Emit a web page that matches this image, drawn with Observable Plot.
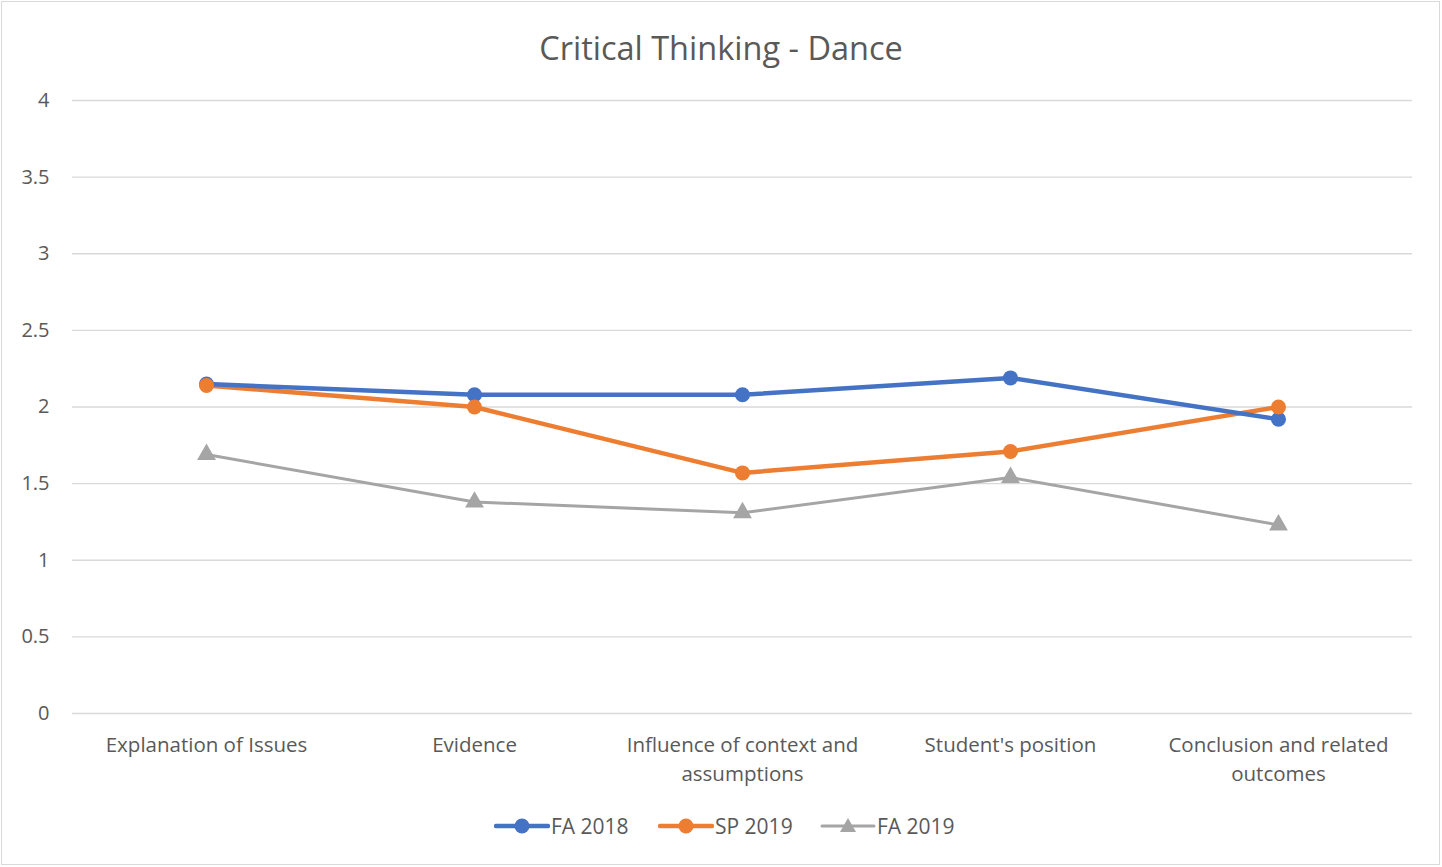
<!DOCTYPE html>
<html>
<head>
<meta charset="utf-8">
<script src="https://cdn.jsdelivr.net/npm/d3@7"></script>
<script src="https://cdn.jsdelivr.net/npm/@observablehq/plot@0.6"></script>
<style>
  body { margin: 0; background: #fff; font-family: "Open Sans", sans-serif; }
  #wrap { position: relative; width: 1442px; height: 867px; overflow: hidden; }
  #frame { position: absolute; left: 1px; top: 1px; width: 1437px; height: 862px; border: 1px solid #d9d9d9; }
  #title { position: absolute; left: 0; width: 1442px; top: 25px; text-align: center; font-size: 32.5px; color: #595959; }
  #chart { position: absolute; left: 0; top: 0; }
  #legend { position: absolute; top: 811px; left: 0; width: 1442px; height: 30px; }
  #legend .item { position: absolute; top: 0; display: flex; align-items: center; font-size: 21px; color: #595959; }
</style>
</head>
<body>
<div id="wrap">
  <div id="frame"></div>
  <div id="chart"></div>
  <div id="title">Critical Thinking - Dance</div>
  <div id="legend"></div>
</div>
<script>
const categories = ["Explanation of Issues", "Evidence", "Influence of context and assumptions", "Student's position", "Conclusion and related outcomes"];
const categoryLabels = ["Explanation of Issues", "Evidence", "Influence of context and\nassumptions", "Student's position", "Conclusion and related\noutcomes"];
const seriesNames = ["FA 2018", "SP 2019", "FA 2019"];
const fa2018 = [2.15, 2.08, 2.08, 2.19, 1.92];
const sp2019 = [2.14, 2.00, 1.57, 1.71, 2.00];
const fa2019 = [1.69, 1.38, 1.31, 1.54, 1.23];
const yTicks = [0, 0.5, 1, 1.5, 2, 2.5, 3, 3.5, 4];
const colors = ["#4472C4", "#ED7D31", "#A5A5A5"];

const seriesValues = [fa2018, sp2019, fa2019];
const data = [];
seriesNames.forEach((s, i) => categories.forEach((c, j) => data.push({series: s, category: c, value: seriesValues[i][j]})));
const labelOf = new Map(categories.map((c, i) => [c, categoryLabels[i]]));

const plot = Plot.plot({
  width: 1442,
  height: 790,
  marginTop: 100,
  marginBottom: 77,
  marginLeft: 72,
  marginRight: 30,
  style: {fontFamily: "Open Sans, sans-serif", background: "transparent"},
  x: {type: "point", domain: categories, padding: 0.5, axis: null},
  y: {domain: [0, 4], axis: null},
  color: {domain: seriesNames, range: colors},
  marks: [
    Plot.ruleY(yTicks, {stroke: "#d9d9d9", strokeWidth: 1.3}),
    Plot.text(yTicks, {x: null, y: d => d, text: d => String(d), frameAnchor: "left", textAnchor: "end", dx: -23, fontSize: 20, fill: "#595959"}),
    Plot.text(categories, {x: d => d, y: () => 0, text: d => labelOf.get(d), lineAnchor: "top", dy: 18, lineHeight: 1.42, fontSize: 20.5, fill: "#595959"}),
    Plot.line(data.filter(d => d.series === "FA 2019"), {x: "category", y: "value", stroke: "series", strokeWidth: 3}),
    Plot.line(data.filter(d => d.series === "SP 2019"), {x: "category", y: "value", stroke: "series", strokeWidth: 4.5}),
    Plot.line(data.filter(d => d.series === "FA 2018"), {x: "category", y: "value", stroke: "series", strokeWidth: 4.5}),
    Plot.dot(data.filter(d => d.series === "FA 2019"), {x: "category", y: "value", fill: "series", symbol: "triangle", r: 7}),
    Plot.dot(data.filter(d => d.series === "FA 2018"), {x: "category", y: "value", fill: "series", r: 7.5}),
    Plot.dot(data.filter(d => d.series === "SP 2019"), {x: "category", y: "value", fill: "series", r: 7.5})
  ]
});
document.getElementById("chart").appendChild(plot);

// Legend
const legendLefts = [494, 658, 820];
const legend = document.getElementById("legend");
seriesNames.forEach((s, i) => {
  const item = document.createElement("div");
  item.className = "item";
  item.style.left = legendLefts[i] + "px";
  const sw = 56, sh = 30;
  const marker = i < 2
    ? `<circle cx="${sw/2}" cy="${sh/2}" r="7.5" fill="${colors[i]}"/>`
    : `<path d="M${sw/2},${sh/2-8} L${sw/2+8},${sh/2+6} L${sw/2-8},${sh/2+6} Z" fill="${colors[i]}"/>`;
  item.innerHTML = `<svg width="${sw}" height="${sh}"><line x1="2" x2="${sw-2}" y1="${sh/2}" y2="${sh/2}" stroke="${colors[i]}" stroke-width="${i < 2 ? 4.5 : 3}" stroke-linecap="round"/>${marker}</svg><span style="margin-left:1px">${s}</span>`;
  legend.appendChild(item);
});
</script>
</body>
</html>
